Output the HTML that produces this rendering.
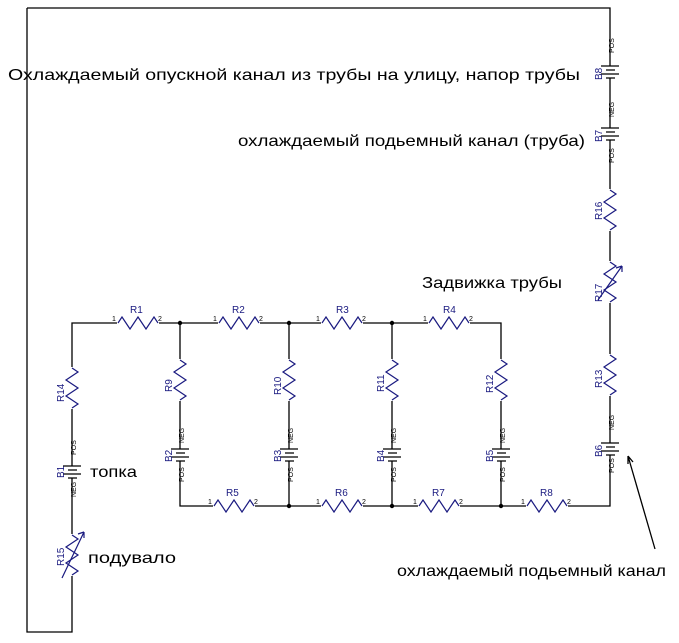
<!DOCTYPE html>
<html><head><meta charset="utf-8"><style>
html,body{margin:0;padding:0;background:#fff;}
svg{display:block;}
.w{stroke:#000;stroke-width:1.3;fill:none;}
.z{stroke:#1a1a80;stroke-width:1.2;fill:none;}
.lab{font-family:"Liberation Sans",sans-serif;font-size:10px;fill:#1a1a80;}
.pin{font-family:"Liberation Sans",sans-serif;font-size:7px;fill:#000;}
.t{font-family:"Liberation Sans",sans-serif;font-size:16px;fill:#000;}
</style></head><body>
<svg width="679" height="643" viewBox="0 0 679 643" xmlns="http://www.w3.org/2000/svg">
<defs>
<g id="rh"><rect x="-1" y="-7" width="42" height="14" fill="#fff"/><path class="z" d="M0 0 L4 -6 L12 6 L20 -6 L28 6 L36 -6 L40 0"/></g>
<g id="rv"><rect x="-7" y="-1" width="14" height="42" fill="#fff"/><path class="z" d="M0 0 L6 4 L-6 12 L6 20 L-6 28 L6 36 L0 40"/></g>
<g id="bat"><rect x="-10" y="-6" width="20" height="12" fill="#fff"/>
<path class="w" d="M-9 -6 H9 M-4 -2 H5 M-9 2 H9 M-4 6 H5"/></g>
</defs>
<!-- wires -->
<path class="w" d="M27 8 H610 V506 H180 V323 H501 V506 M27 8 V632 H72 V323 H180 M289 323 V506 M392 323 V506"/>
<!-- nodes -->
<g fill="#000"><circle cx="180" cy="323" r="2.2"/><circle cx="289" cy="323" r="2.2"/><circle cx="392" cy="323" r="2.2"/><circle cx="289" cy="506" r="2.2"/><circle cx="392" cy="506" r="2.2"/><circle cx="501" cy="506" r="2.2"/></g>
<!-- top resistors -->
<use href="#rh" x="118" y="323"/><text class="lab" x="130" y="313">R1</text><text class="pin" x="112" y="321">1</text><text class="pin" x="158" y="321">2</text>
<use href="#rh" x="219" y="323"/><text class="lab" x="232" y="313">R2</text><text class="pin" x="213" y="321">1</text><text class="pin" x="259" y="321">2</text>
<use href="#rh" x="322" y="323"/><text class="lab" x="336" y="313">R3</text><text class="pin" x="316" y="321">1</text><text class="pin" x="362" y="321">2</text>
<use href="#rh" x="429" y="323"/><text class="lab" x="443" y="313">R4</text><text class="pin" x="423" y="321">1</text><text class="pin" x="469" y="321">2</text>
<!-- bottom resistors -->
<use href="#rh" x="214" y="506"/><text class="lab" x="226" y="496">R5</text><text class="pin" x="208" y="504">1</text><text class="pin" x="254" y="504">2</text>
<use href="#rh" x="322" y="506"/><text class="lab" x="335" y="496">R6</text><text class="pin" x="316" y="504">1</text><text class="pin" x="362" y="504">2</text>
<use href="#rh" x="419" y="506"/><text class="lab" x="432" y="496">R7</text><text class="pin" x="413" y="504">1</text><text class="pin" x="459" y="504">2</text>
<use href="#rh" x="527" y="506"/><text class="lab" x="540" y="496">R8</text><text class="pin" x="521" y="504">1</text><text class="pin" x="567" y="504">2</text>
<!-- vertical branches -->
<g>
<use href="#rv" x="180" y="360"/><text class="lab" transform="translate(172,392) rotate(-90)">R9</text>
<use href="#bat" x="180" y="455"/><text class="lab" transform="translate(172,462) rotate(-90)">B2</text>
<use href="#rv" x="289" y="360"/><text class="lab" transform="translate(281,395) rotate(-90)">R10</text>
<use href="#bat" x="289" y="455"/><text class="lab" transform="translate(281,462) rotate(-90)">B3</text>
<use href="#rv" x="392" y="360"/><text class="lab" transform="translate(384,392) rotate(-90)">R11</text>
<use href="#bat" x="392" y="455"/><text class="lab" transform="translate(384,462) rotate(-90)">B4</text>
<use href="#rv" x="501" y="360"/><text class="lab" transform="translate(493,393) rotate(-90)">R12</text>
<use href="#bat" x="501" y="455"/><text class="lab" transform="translate(493,462) rotate(-90)">B5</text>
</g>
<g class="pin">
<text transform="translate(184,443) rotate(-90)">NEG</text><text transform="translate(184,482) rotate(-90)">POS</text>
<text transform="translate(293,443) rotate(-90)">NEG</text><text transform="translate(293,482) rotate(-90)">POS</text>
<text transform="translate(396,443) rotate(-90)">NEG</text><text transform="translate(396,482) rotate(-90)">POS</text>
<text transform="translate(505,443) rotate(-90)">NEG</text><text transform="translate(505,482) rotate(-90)">POS</text>
<text transform="translate(76,455) rotate(-90)">POS</text><text transform="translate(76,497) rotate(-90)">NEG</text>
<text transform="translate(614,53) rotate(-90)">POS</text><text transform="translate(614,117) rotate(-90)">NEG</text>
<text transform="translate(614,163) rotate(-90)">POS</text><text transform="translate(614,430) rotate(-90)">NEG</text>
<text transform="translate(614,473) rotate(-90)">POS</text>
</g>
<!-- left branch -->
<use href="#rv" x="72" y="368"/><text class="lab" transform="translate(64,402) rotate(-90)">R14</text>
<use href="#bat" x="72" y="472"/><text class="lab" transform="translate(64,478) rotate(-90)">B1</text>
<use href="#rv" x="72" y="535"/><text class="lab" transform="translate(64,566) rotate(-90)">R15</text>
<path class="z" d="M62 578 L84 532 M84 532 l-6 2 M84 532 l0 6"/>
<!-- right column -->
<use href="#bat" x="610" y="72"/><text class="lab" transform="translate(602,80) rotate(-90)">B8</text>
<use href="#bat" x="610" y="134"/><text class="lab" transform="translate(602,142) rotate(-90)">B7</text>
<use href="#rv" x="610" y="190"/><text class="lab" transform="translate(602,220) rotate(-90)">R16</text>
<use href="#rv" x="610" y="262"/><text class="lab" transform="translate(602,302) rotate(-90)">R17</text>
<path class="z" d="M598 300 L622 266 M622 266 l-6 2 M622 266 l0 6"/>
<use href="#rv" x="610" y="355"/><text class="lab" transform="translate(602,388) rotate(-90)">R13</text>
<use href="#bat" x="610" y="449"/><text class="lab" transform="translate(602,457) rotate(-90)">B6</text>
<!-- arrow -->
<path class="w" d="M655 549 L628 456 M628 456 l0 8 M628 456 l5 6"/>
<!-- texts -->
<text class="t" x="8" y="80" textLength="572" lengthAdjust="spacingAndGlyphs">Охлаждаемый опускной канал из трубы на улицу, напор трубы</text>
<text class="t" x="238" y="146" textLength="347" lengthAdjust="spacingAndGlyphs">охлаждаемый подьемный канал (труба)</text>
<text class="t" x="422" y="288" textLength="140" lengthAdjust="spacingAndGlyphs">Задвижка трубы</text>
<text class="t" x="90" y="477" textLength="47" lengthAdjust="spacingAndGlyphs">топка</text>
<text class="t" x="88" y="563" textLength="88" lengthAdjust="spacingAndGlyphs">подувало</text>
<text class="t" x="397" y="576" textLength="269" lengthAdjust="spacingAndGlyphs">охлаждаемый подьемный канал</text>
</svg>
</body></html>
